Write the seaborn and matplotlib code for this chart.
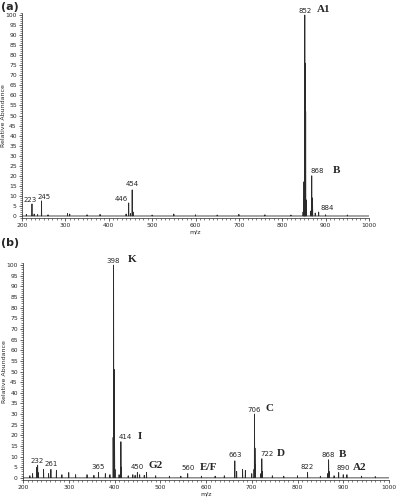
import matplotlib.pyplot as plt
import pandas as pd
import seaborn as sns
from matplotlib.ticker import MultipleLocator

# panel (a) peaks: m/z and relative abundance
mz_a = [210, 223, 228, 236, 245, 260, 305, 310, 350, 380, 440, 446, 450, 454, 456,
        500, 550, 600, 650, 700, 760, 820, 848, 850, 851, 852, 853, 854, 855,
        866, 868, 869, 870, 876, 884, 900, 950]
int_a = [0.8, 6, 1.0, 0.7, 7.5, 0.6, 1.2, 1.0, 0.6, 0.8, 1.0, 6.5, 1.2, 13, 2.0,
         0.5, 1.0, 0.6, 0.5, 0.8, 0.6, 0.5, 2.0, 17, 10, 100, 76, 52, 8,
         2.5, 20, 9, 5, 1.5, 2.0, 0.6, 0.5]

# panel (b) peaks
mz_b = [215, 221, 230, 232, 233, 245, 256, 261, 273, 285, 300, 315, 340, 355, 365,
        380, 390, 397, 398, 399, 400, 401, 410, 414, 415, 430, 440, 445, 450, 455,
        465, 470, 490, 520, 545, 560, 590, 620, 640, 663, 667, 680, 686, 700,
        705, 706, 707, 708, 720, 722, 723, 745, 770, 800, 822, 850, 866, 868, 869,
        880, 890, 900, 908, 940, 970]
int_b = [1.0, 2.0, 5, 6, 2.5, 4, 2.0, 4, 3.5, 1.5, 2.5, 1.5, 1.5, 1.2, 2.5,
         2.0, 1.5, 19, 100, 51, 24, 4, 1.5, 17, 5, 1.0, 1.5, 1.2, 2.5, 1.5,
         1.2, 2.5, 1.0, 0.8, 0.8, 2.0, 0.8, 0.8, 1.0, 8, 3, 4, 3.5, 2,
         4, 30, 14, 6, 2, 9, 3, 1.0, 0.8, 1.0, 2.5, 0.8, 2, 8.5, 3,
         1.0, 2.5, 1.5, 1.5, 0.8, 0.6]

# annotated peaks: (m/z, number label, letter label)
labels_a = [(223, "223", ""), (245, "245", ""), (446, "446", ""), (454, "454", ""),
            (852, "852", "A1"), (868, "868", "B"), (884, "884", "")]
labels_b = [(232, "232", ""), (261, "261", ""), (365, "365", ""), (398, "398", "K"),
            (414, "414", "I"), (450, "450", "G2"), (560, "560", "E/F"),
            (663, "663", ""), (706, "706", "C"), (722, "722", "D"), (822, "822", ""),
            (868, "868", "B"), (890, "890", "A2")]


def stick_profile(mz, inten, half=0.4):
    xs, ys = [200.0], [0.0]
    for m, v in sorted(zip(mz, inten)):
        xs += [m - half, m, m + half]
        ys += [0.0, v, 0.0]
    xs.append(1000.0)
    ys.append(0.0)
    return pd.DataFrame({"m/z": xs, "Relative Abundance": ys})


def draw_panel(ax, mz, inten, labels, offsets, letter_gap):
    df = stick_profile(mz, inten)
    sns.lineplot(data=df, x="m/z", y="Relative Abundance", ax=ax, estimator=None,
                 sort=False, color="#2b2b2b", lw=0.6)
    lookup = dict(zip(mz, inten))
    for m, num, letter in labels:
        top = lookup[m]
        dx, dy = offsets.get(m, (0, 2))
        ax.annotate(num, (m, top), xytext=(dx, dy), textcoords="offset points",
                    ha="center", va="bottom", fontsize=5, family="DejaVu Sans")
        if letter:
            ax.annotate(letter, (m, top), xytext=(dx + letter_gap.get(m, 8), dy - 0.5),
                        textcoords="offset points", ha="left", va="bottom",
                        fontsize=8, fontweight="bold", family="Liberation Serif")
    ax.set_xlim(200, 1000)
    ax.set_ylim(-1, 101)
    ax.xaxis.set_major_locator(MultipleLocator(100))
    ax.xaxis.set_minor_locator(MultipleLocator(10))
    ax.yaxis.set_major_locator(MultipleLocator(5))
    ax.yaxis.set_minor_locator(MultipleLocator(1))
    ax.tick_params(which="major", labelsize=4.3, length=2.2, width=0.5, pad=1.5)
    ax.tick_params(which="minor", length=1.1, width=0.4)
    ax.set_xlabel("m/z", fontsize=4.5, labelpad=1)
    ax.set_ylabel("Relative Abundance", fontsize=4.5)
    ax.yaxis.set_label_coords(-0.045, 0.5)
    for s in ax.spines.values():
        s.set_linewidth(0.5)
    sns.despine(ax=ax)


def main() -> None:
    sns.set_style("ticks")
    plt.rcParams["font.family"] = ["DejaVu Sans"]
    fig = plt.figure(figsize=(3.96, 5.0), dpi=100)
    ax_a = fig.add_axes([22 / 396, 1 - 218 / 500, 347 / 396, 205 / 500])
    ax_b = fig.add_axes([23 / 396, 1 - 480 / 500, 366 / 396, 217 / 500])

    draw_panel(ax_a, mz_a, int_a, labels_a,
               {223: (-1, 1), 245: (2, 1), 446: (-5, 1), 868: (4, 1),
                884: (6, 1), 852: (0, 1)},
               {852: 9, 868: 11})
    draw_panel(ax_b, mz_b, int_b, labels_b,
               {398: (0, 1), 414: (3, 1), 232: (0, 1), 261: (0, 2), 365: (0, 2),
                450: (0, 2), 560: (0, 2), 663: (0, 2), 706: (0, 1), 722: (4, 1),
                822: (0, 2), 868: (0, 1), 890: (3, 1)},
               {398: 10, 414: 9, 450: 8, 560: 9, 706: 8, 722: 7, 868: 7, 890: 7})

    fig.text(0.003, 0.997, "(a)", ha="left", va="top", fontsize=8, fontweight="bold")
    fig.text(0.003, 0.523, "(b)", ha="left", va="top", fontsize=8, fontweight="bold")
    fig.savefig("out.png", dpi=100)


if __name__ == "__main__":
    main()
